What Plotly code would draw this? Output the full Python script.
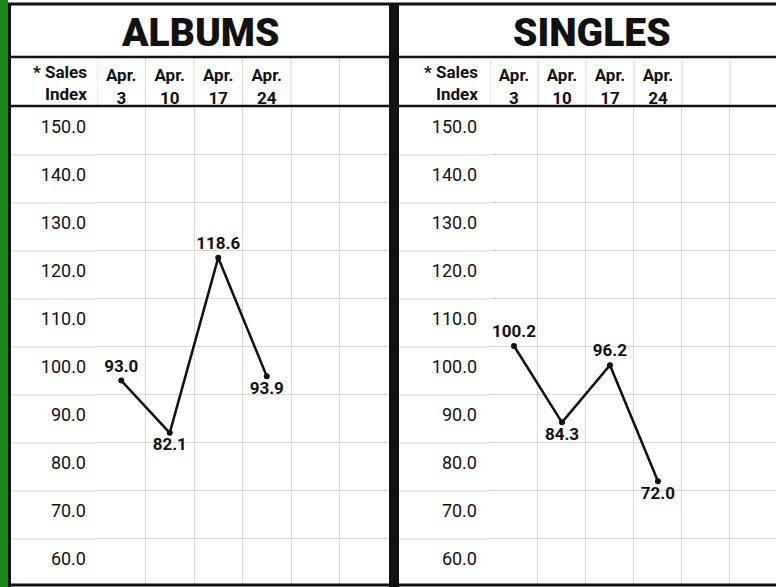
import plotly.graph_objects as go

weeks = ["Apr.<br>3", "Apr.<br>10", "Apr.<br>17", "Apr.<br>24"]
albums = [93.0, 82.1, 118.6, 93.9]
singles = [100.2, 84.3, 96.2, 72.0]
ticks = [60, 70, 80, 90, 100, 110, 120, 130, 140, 150]
tick_text = [f"{t:.1f}" for t in ticks]

W, H = 776, 587
FONT = "Roboto, Liberation Sans, sans-serif"
INK = "#111111"
GRID = "#d9d9d2"

def px(x):
    return x / W

def py(y):
    return 1 - y / H

fig = go.Figure()
xs = list(range(len(weeks)))
fig.add_trace(go.Scatter(
    x=xs, y=albums, xaxis="x", yaxis="y", mode="lines+markers+text",
    line=dict(color=INK, width=2.5), marker=dict(color=INK, size=6),
    text=[f"<b>{v:.1f}</b>" for v in albums],
    textposition=["top center", "bottom center", "top center", "bottom center"],
    textfont=dict(family=FONT, size=17, color=INK), cliponaxis=False, showlegend=False,
))
fig.add_trace(go.Scatter(
    x=xs, y=singles, xaxis="x2", yaxis="y2", mode="lines+markers+text",
    line=dict(color=INK, width=2.5), marker=dict(color=INK, size=6),
    text=[f"<b>{v:.1f}</b>" for v in singles],
    textposition=["top center", "bottom center", "top center", "bottom center"],
    textfont=dict(family=FONT, size=17, color=INK), cliponaxis=False, showlegend=False,
))

ydom = [py(585), py(107)]
yrange = [50.4, 150]

def xaxis(dom, rng):
    return dict(
        domain=dom, range=rng, side="top", anchor="free", position=ydom[1],
        automargin=False,
        tickmode="array", tickvals=xs, ticktext=[f"<b>{w}</b>" for w in weeks],
        tickfont=dict(family=FONT, size=17, color=INK), ticks="", showline=False,
        showgrid=False, zeroline=False, fixedrange=True,
        minor=dict(tickmode="array", tickvals=[i - 0.5 for i in range(0, 7)],
                   showgrid=True, gridcolor=GRID, gridwidth=1, ticks=""),
    )

def yaxis(anchor, standoff):
    return dict(
        domain=ydom, range=yrange, anchor=anchor, tickmode="array",
        automargin=False,
        tickvals=ticks, ticktext=tick_text, ticks="",
        tickfont=dict(family=FONT, size=18, color=INK),
        ticklabelshift=20, ticklabelstandoff=standoff,
        showgrid=True, gridcolor=GRID, gridwidth=1, zeroline=False,
        showline=False, fixedrange=True,
    )

fig.update_layout(
    width=W, height=H, margin=dict(l=0, r=0, t=0, b=0, autoexpand=False),
    paper_bgcolor="white", plot_bgcolor="white",
    xaxis=xaxis([px(97), px(388)], [-0.5, 5.5]),
    yaxis=yaxis("x", 10),
    xaxis2=xaxis([px(490), 1.0], [-0.5, 5.46]),
    yaxis2=yaxis("x2", 12),
)

shapes = []
# extend horizontal gridlines across the label columns
for v in ticks[:-1]:
    shapes.append(dict(type="line", xref="x domain", yref="y", x0=-0.30, x1=0, y0=v, y1=v,
                       line=dict(color=GRID, width=1)))
    shapes.append(dict(type="line", xref="x2 domain", yref="y2", x0=-0.32, x1=0, y0=v, y1=v,
                       line=dict(color=GRID, width=1)))
# vertical grid through header row
for i in range(0, 7):
    xv = i - 0.5
    shapes.append(dict(type="line", xref="x", yref="paper", x0=xv, x1=xv, y0=py(107), y1=py(58),
                       line=dict(color=GRID, width=1)))
    shapes.append(dict(type="line", xref="x2", yref="paper", x0=xv, x1=xv, y0=py(107), y1=py(60),
                       line=dict(color=GRID, width=1)))
# green strip and borders
shapes.append(dict(type="rect", xref="paper", yref="paper", x0=0, x1=px(8), y0=0, y1=1,
                   fillcolor="#1a851a", line=dict(width=0)))
shapes.append(dict(type="line", xref="paper", yref="paper", x0=px(9.5), x1=px(9.5), y0=0, y1=py(4),
                   line=dict(color=INK, width=3)))
shapes.append(dict(type="rect", xref="paper", yref="paper", x0=px(389), x1=px(399), y0=0, y1=py(4),
                   fillcolor=INK, line=dict(width=0)))
for y, w in [(4, 3), (57, 2.5), (106, 2.5), (585, 3)]:
    shapes.append(dict(type="line", xref="paper", yref="paper", x0=px(8), x1=1, y0=py(y), y1=py(y),
                       line=dict(color=INK, width=w)))
fig.update_layout(shapes=shapes)

TITLE_FONT = "Roboto, Liberation Sans, sans-serif"
ann = [
    dict(text="ALBUMS", xref="paper", yref="paper", x=px(200), y=py(33),
         xanchor="center", yanchor="middle",
         font=dict(family=TITLE_FONT, size=39, color=INK, weight=900), showarrow=False),
    dict(text="SINGLES", xref="paper", yref="paper", x=px(592), y=py(33),
         xanchor="center", yanchor="middle",
         font=dict(family=TITLE_FONT, size=39, color=INK, weight=900), showarrow=False),
    dict(text="<b>* Sales<br>Index</b>", xref="paper", yref="paper", x=px(89), y=py(83),
         xanchor="right", yanchor="middle", align="right",
         font=dict(family=FONT, size=17, color=INK), showarrow=False),
    dict(text="<b>* Sales<br>Index</b>", xref="paper", yref="paper", x=px(480), y=py(83),
         xanchor="right", yanchor="middle", align="right",
         font=dict(family=FONT, size=17, color=INK), showarrow=False),
]
fig.update_layout(annotations=ann)

fig.write_html("out.html", config={"displayModeBar": False},
               post_script="document.body.style.margin='0';")
